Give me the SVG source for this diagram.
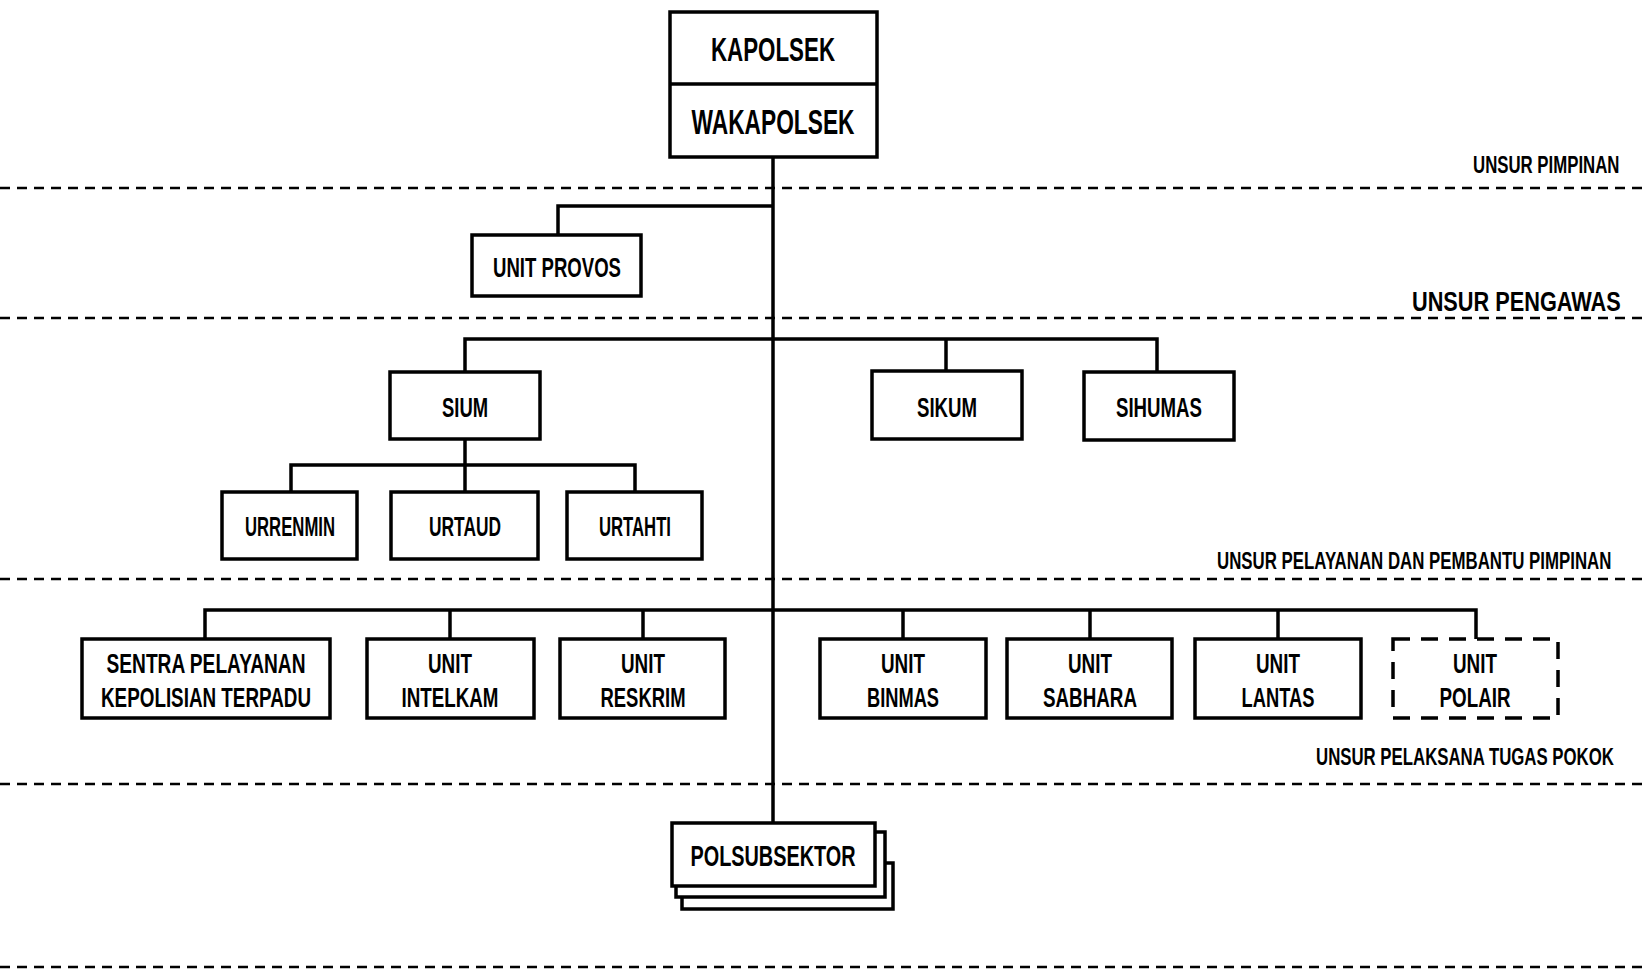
<svg xmlns="http://www.w3.org/2000/svg" width="1647" height="971" viewBox="0 0 1647 971">
<style>
.bg{fill:#ffffff}
.box{fill:#ffffff;stroke:#000;stroke-width:3.5}
.dbox{fill:#ffffff;stroke:#000;stroke-width:3.5;stroke-dasharray:17 11}
.sep{stroke:#000;stroke-width:2.5;stroke-dasharray:10 7;fill:none}
.con{stroke:#000;stroke-width:3.5;fill:none}
text{font-family:"Liberation Sans",Arial,sans-serif;font-weight:bold;fill:#000}
.t{text-anchor:middle}
</style>
<rect class="bg" x="0" y="0" width="1647" height="971"/>

<g id="separators">
<line class="sep" x1="0" y1="188" x2="1647" y2="188"/>
<line class="sep" x1="0" y1="318" x2="1647" y2="318"/>
<line class="sep" x1="0" y1="579" x2="1647" y2="579"/>
<line class="sep" x1="0" y1="784" x2="1647" y2="784"/>
<line class="sep" x1="0" y1="967" x2="1647" y2="967"/>
</g>

<g id="section-labels">
<text transform="translate(1473,173) scale(0.70,1)" x="0" y="0" font-size="24">UNSUR PIMPINAN</text>
<text transform="translate(1412,311) scale(0.776,1)" x="0" y="0" font-size="28">UNSUR PENGAWAS</text>
<text transform="translate(1217,569) scale(0.702,1)" x="0" y="0" font-size="24">UNSUR PELAYANAN DAN PEMBANTU PIMPINAN</text>
<text transform="translate(1316,765) scale(0.70,1)" x="0" y="0" font-size="24">UNSUR PELAKSANA TUGAS POKOK</text>
</g>

<g id="connectors">
<line class="con" x1="773" y1="157" x2="773" y2="823"/>
<polyline class="con" points="773,206 558,206 558,235"/>
<polyline class="con" points="465,372 465,339 1157,339 1157,372"/>
<line class="con" x1="946" y1="339" x2="946" y2="371"/>
<line class="con" x1="465" y1="439" x2="465" y2="492"/>
<polyline class="con" points="291,492 291,465 635,465 635,492"/>
<polyline class="con" points="205,639 205,610 1476,610 1476,639"/>
<line class="con" x1="450" y1="610" x2="450" y2="639"/>
<line class="con" x1="643" y1="610" x2="643" y2="639"/>
<line class="con" x1="903" y1="610" x2="903" y2="639"/>
<line class="con" x1="1090" y1="610" x2="1090" y2="639"/>
<line class="con" x1="1278" y1="610" x2="1278" y2="639"/>
</g>

<g id="kapolsek">
<rect class="box" x="670" y="12" width="207" height="145"/>
<line class="con" x1="670" y1="84" x2="877" y2="84"/>
<text class="t" x="773" y="61" font-size="34" textLength="124" lengthAdjust="spacingAndGlyphs">KAPOLSEK</text>
</g>
<g id="wakapolsek">
<text class="t" x="773" y="134" font-size="35" textLength="163" lengthAdjust="spacingAndGlyphs">WAKAPOLSEK</text>
</g>

<g id="unit-provos">
<rect class="box" x="472" y="235" width="169" height="61"/>
<text class="t" x="557" y="277" font-size="28" textLength="128" lengthAdjust="spacingAndGlyphs">UNIT PROVOS</text>
</g>

<g id="sium">
<rect class="box" x="390" y="372" width="150" height="67"/>
<text class="t" x="465" y="417" font-size="28" textLength="46" lengthAdjust="spacingAndGlyphs">SIUM</text>
</g>
<g id="sikum">
<rect class="box" x="872" y="371" width="150" height="68"/>
<text class="t" x="947" y="417" font-size="28" textLength="60" lengthAdjust="spacingAndGlyphs">SIKUM</text>
</g>
<g id="sihumas">
<rect class="box" x="1084" y="372" width="150" height="68"/>
<text class="t" x="1159" y="417" font-size="28" textLength="86" lengthAdjust="spacingAndGlyphs">SIHUMAS</text>
</g>

<g id="urrenmin">
<rect class="box" x="222" y="492" width="135" height="67"/>
<text class="t" x="290" y="536" font-size="27" textLength="90" lengthAdjust="spacingAndGlyphs">URRENMIN</text>
</g>
<g id="urtaud">
<rect class="box" x="391" y="492" width="147" height="67"/>
<text class="t" x="465" y="536" font-size="27" textLength="72" lengthAdjust="spacingAndGlyphs">URTAUD</text>
</g>
<g id="urtahti">
<rect class="box" x="567" y="492" width="135" height="67"/>
<text class="t" x="635" y="536" font-size="27" textLength="72" lengthAdjust="spacingAndGlyphs">URTAHTI</text>
</g>

<g id="sentra">
<rect class="box" x="82" y="639" width="248" height="79"/>
<text class="t" x="206" y="673" font-size="27" textLength="199" lengthAdjust="spacingAndGlyphs">SENTRA PELAYANAN</text>
<text class="t" x="206" y="707" font-size="27" textLength="210" lengthAdjust="spacingAndGlyphs">KEPOLISIAN TERPADU</text>
</g>
<g id="unit-intelkam">
<rect class="box" x="367" y="639" width="167" height="79"/>
<text class="t" x="450" y="673" font-size="27" textLength="44" lengthAdjust="spacingAndGlyphs">UNIT</text>
<text class="t" x="450" y="707" font-size="27" textLength="97" lengthAdjust="spacingAndGlyphs">INTELKAM</text>
</g>
<g id="unit-reskrim">
<rect class="box" x="560" y="639" width="165" height="79"/>
<text class="t" x="643" y="673" font-size="27" textLength="44" lengthAdjust="spacingAndGlyphs">UNIT</text>
<text class="t" x="643" y="707" font-size="27" textLength="85" lengthAdjust="spacingAndGlyphs">RESKRIM</text>
</g>
<g id="unit-binmas">
<rect class="box" x="820" y="639" width="166" height="79"/>
<text class="t" x="903" y="673" font-size="27" textLength="44" lengthAdjust="spacingAndGlyphs">UNIT</text>
<text class="t" x="903" y="707" font-size="27" textLength="72" lengthAdjust="spacingAndGlyphs">BINMAS</text>
</g>
<g id="unit-sabhara">
<rect class="box" x="1007" y="639" width="165" height="79"/>
<text class="t" x="1090" y="673" font-size="27" textLength="44" lengthAdjust="spacingAndGlyphs">UNIT</text>
<text class="t" x="1090" y="707" font-size="27" textLength="94" lengthAdjust="spacingAndGlyphs">SABHARA</text>
</g>
<g id="unit-lantas">
<rect class="box" x="1195" y="639" width="166" height="79"/>
<text class="t" x="1278" y="673" font-size="27" textLength="44" lengthAdjust="spacingAndGlyphs">UNIT</text>
<text class="t" x="1278" y="707" font-size="27" textLength="73" lengthAdjust="spacingAndGlyphs">LANTAS</text>
</g>
<g id="unit-polair">
<rect class="dbox" x="1393" y="639" width="165" height="79"/>
<text class="t" x="1475" y="673" font-size="27" textLength="44" lengthAdjust="spacingAndGlyphs">UNIT</text>
<text class="t" x="1475" y="707" font-size="27" textLength="71" lengthAdjust="spacingAndGlyphs">POLAIR</text>
</g>

<g id="polsubsektor">
<rect class="box" x="682" y="863" width="211" height="46"/>
<rect class="box" x="676" y="832" width="209" height="65"/>
<rect class="box" x="672" y="823" width="203" height="63"/>
<text class="t" x="773" y="866" font-size="29" textLength="165" lengthAdjust="spacingAndGlyphs">POLSUBSEKTOR</text>
</g>
</svg>
